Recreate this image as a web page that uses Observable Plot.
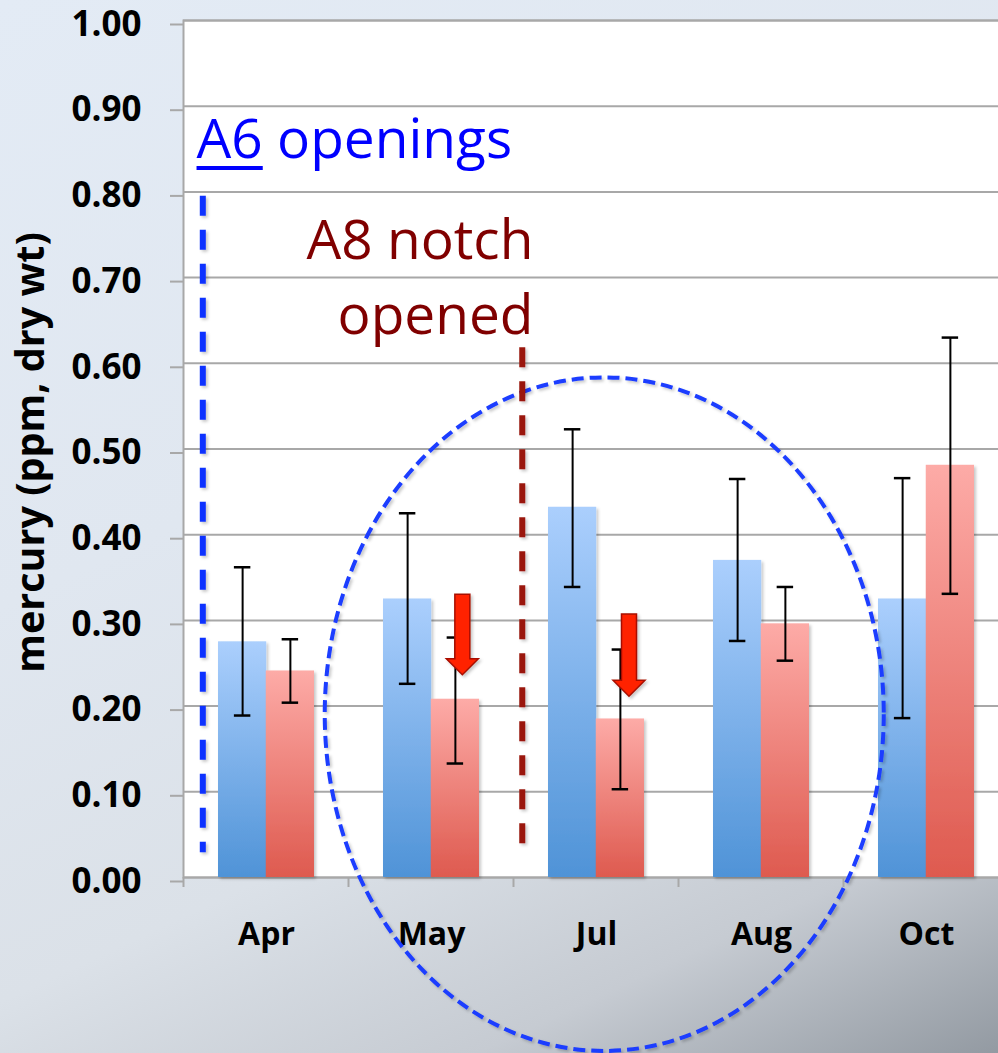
<!DOCTYPE html>
<html><head><meta charset="utf-8">
<script src="https://cdn.jsdelivr.net/npm/d3@7"></script>
<script src="https://cdn.jsdelivr.net/npm/@observablehq/plot@0.6"></script>
<style>
html,body{margin:0;padding:0;overflow:hidden;width:998px;height:1053px;}
body{background:linear-gradient(155deg,#e3ebf5 0%,#e0e7f0 40%,#dbe1e8 66%,#c6cbd2 84%,#939aa2 100%);}
#chart svg{display:block;overflow:visible;max-width:none !important;}
</style></head><body><div id="chart"></div>
<script>
// ---- data ----
const months    = ["Apr", "May", "Jul", "Aug", "Oct"];
const blueMean  = [0.275, 0.325, 0.432, 0.370, 0.325];
const blueLow   = [0.189, 0.226, 0.339, 0.276, 0.186];
const blueHigh  = [0.362, 0.425, 0.523, 0.465, 0.466];
const redMean   = [0.241, 0.208, 0.185, 0.296, 0.481];
const redLow    = [0.204, 0.133, 0.103, 0.253, 0.331];
const redHigh   = [0.278, 0.280, 0.266, 0.339, 0.630];
const yTicks    = [0, 0.1, 0.2, 0.3, 0.4, 0.5, 0.6, 0.7, 0.8, 0.9, 1.0];
const yTitle    = "mercury (ppm, dry wt)";
// annotations (data units: month band + shift in band steps, value on y)
const annoLines = [
  {month: "Apr", shift: -0.383, from: 0.795, to: 0.029, color: "#0a30ff"},
  {month: "Jul", shift: -0.447, from: 0.618, to: 0.025, color: "#9a170c"}
];
const arrows = [
  {month: "May", shift: 0.19, top: 0.330, tip: 0.236},
  {month: "Jul", shift: 0.20, top: 0.307, tip: 0.211}
];
const ring = {month: "Jul", shift: 0.05, value: 0.19, rx: 1.694, ry: 0.393};
const notes = [
  {parts: [["A6", true], [" openings", false]], month: "Apr", shift: -0.421, value: 0.839, anchor: "start", color: "#0000ff"},
  {parts: [["A8 notch", false]], month: "Jul", shift: -0.379, value: 0.721, anchor: "end", color: "#800000"},
  {parts: [["opened", false]], month: "Jul", shift: -0.379, value: 0.634, anchor: "end", color: "#800000"}
];

const rows = months.map((m, i) => ({month: m, blue: blueMean[i], blueLow: blueLow[i], blueHigh: blueHigh[i],
  red: redMean[i], redLow: redLow[i], redHigh: redHigh[i]}));

// ---- layout ----
const W = 1008, H = 1053, ML = 183, MR = 0, MT = 20, MB = 176;
const PAD = 0.421;
const STEP = (W - ML - MR) / months.length;
const BW = STEP * (1 - PAD);
const CAP = 8;
const GRID = "#a8a8a8";
const NOTE_FONT = 55;

const measure = (() => {
  const ctx = document.createElement("canvas").getContext("2d");
  return (s, size) => { ctx.font = `${size}px 'Open Sans'`; return ctx.measureText(s).width; };
})();

const defs = () => {
  const d = d3.create("svg:defs");
  const g1 = d.append("linearGradient").attr("id", "gBlue").attr("x1", 0).attr("y1", 0).attr("x2", 0).attr("y2", 1);
  g1.append("stop").attr("offset", "0%").attr("stop-color", "#abcffd");
  g1.append("stop").attr("offset", "100%").attr("stop-color", "#4f93d7");
  const g2 = d.append("linearGradient").attr("id", "gRed").attr("x1", 0).attr("y1", 0).attr("x2", 0).attr("y2", 1);
  g2.append("stop").attr("offset", "0%").attr("stop-color", "#fdaba7");
  g2.append("stop").attr("offset", "100%").attr("stop-color", "#de5a4f");
  const f = d.append("filter").attr("id", "shadow").attr("filterUnits", "userSpaceOnUse")
    .attr("x", -50).attr("y", -50).attr("width", 1200).attr("height", 1200);
  f.append("feDropShadow").attr("dx", 2).attr("dy", 2).attr("stdDeviation", 1.8).attr("flood-color", "#000").attr("flood-opacity", 0.22);
  return d.node();
};

const overlay = (index, scales) => {
  const x = scales.x, y = scales.y;
  const bw = x.bandwidth(), step = x.step();
  const px = (m, s) => x(m) + bw / 2 + s * step;
  const g = d3.create("svg:g");
  // category boundary ticks on the x axis
  for (const m of months) {
    const xb = x(m) + bw / 2 - step / 2;
    g.append("line").attr("x1", xb).attr("x2", xb).attr("y1", y(0)).attr("y2", y(0) + 10)
      .attr("stroke", GRID).attr("stroke-width", 2);
  }
  // ellipse
  g.append("ellipse").attr("cx", px(ring.month, ring.shift)).attr("cy", y(ring.value))
    .attr("rx", ring.rx * step).attr("ry", y(0) - y(ring.ry))
    .attr("fill", "none").attr("stroke", "#1a3cff").attr("stroke-width", 4)
    .attr("stroke-dasharray", "12 6").attr("filter", "url(#shadow)");
  // dashed vertical lines
  for (const l of annoLines) {
    g.append("line").attr("x1", px(l.month, l.shift)).attr("x2", px(l.month, l.shift))
      .attr("y1", y(l.from)).attr("y2", y(l.to))
      .attr("stroke", l.color).attr("stroke-width", 6).attr("stroke-dasharray", "20 14")
      .attr("filter", "url(#shadow)");
  }
  // block arrows
  for (const a of arrows) {
    const cx = px(a.month, a.shift), t = y(a.top), tip = y(a.tip), hs = tip - 16;
    const p = [[cx - 7.5, t], [cx + 7.5, t], [cx + 7.5, hs], [cx + 16, hs], [cx, tip], [cx - 16, hs], [cx - 7.5, hs]];
    g.append("path").attr("d", "M" + p.map(q => q.join(",")).join("L") + "Z")
      .attr("fill", "#ff2200").attr("stroke", "#a81000").attr("stroke-width", 1.5)
      .attr("stroke-linejoin", "miter").attr("filter", "url(#shadow)");
  }
  // notes
  for (const n of notes) {
    const x0 = px(n.month, n.shift), y0 = y(n.value);
    const t = g.append("text").attr("x", x0).attr("y", y0)
      .attr("text-anchor", n.anchor).attr("fill", n.color)
      .attr("font-family", "'Open Sans'").attr("font-size", NOTE_FONT);
    let cursor = x0;
    for (const [s, u] of n.parts) {
      t.append("tspan").text(s);
      const w = measure(s, NOTE_FONT);
      if (u) g.append("line").attr("x1", cursor).attr("x2", cursor + w).attr("y1", y0 + 10).attr("y2", y0 + 10)
        .attr("stroke", n.color).attr("stroke-width", 4);
      cursor += w;
    }
  }
  // y axis title
  g.append("text").attr("transform", `translate(44,${(y(0) + y(1)) / 2 + 4}) rotate(-90)`)
    .attr("text-anchor", "middle").attr("font-family", "'Open Sans'").attr("font-weight", "bold")
    .attr("font-size", 39.5).attr("fill", "black").text(yTitle);
  return g.node();
};

const chart = Plot.plot({
  width: W, height: H,
  marginLeft: ML, marginRight: MR, marginTop: MT, marginBottom: MB,
  style: {fontFamily: "'Open Sans', sans-serif", background: "transparent", overflow: "visible", maxWidth: "none"},
  x: {domain: months, paddingInner: PAD, paddingOuter: PAD / 2},
  y: {domain: [0, 1]},
  marks: [
    defs,
    Plot.frame({fill: "white", stroke: GRID, strokeWidth: 2}),
    Plot.gridY(yTicks, {stroke: GRID, strokeOpacity: 1, strokeWidth: 2}),
    Plot.axisY(yTicks, {tickSize: 13, tickPadding: 29, tickFormat: d3.format(".2f"), fontSize: 35, dy: 4,
      fontWeight: "bold", stroke: GRID, strokeWidth: 2, fill: "black", label: null}),
    Plot.axisX({tickSize: 0, tickPadding: 45, fontSize: 32, fontWeight: "bold", fill: "black", label: null}),
    Plot.barY(rows, {x: "month", y: "blue", fill: "url(#gBlue)", insetRight: BW / 2}),
    Plot.barY(rows, {x: "month", y: "red", fill: "url(#gRed)", insetLeft: BW / 2}),
    Plot.ruleX(rows, {x: "month", y1: "blueLow", y2: "blueHigh", dx: -BW / 4, stroke: "black", strokeWidth: 2}),
    Plot.ruleX(rows, {x: "month", y1: "redLow", y2: "redHigh", dx: BW / 4, stroke: "black", strokeWidth: 2}),
    Plot.tickY(rows, {x: "month", y: "blueHigh", insetLeft: BW / 4 - CAP, insetRight: 3 * BW / 4 - CAP, stroke: "black", strokeWidth: 2.5}),
    Plot.tickY(rows, {x: "month", y: "blueLow", insetLeft: BW / 4 - CAP, insetRight: 3 * BW / 4 - CAP, stroke: "black", strokeWidth: 2.5}),
    Plot.tickY(rows, {x: "month", y: "redHigh", insetLeft: 3 * BW / 4 - CAP, insetRight: BW / 4 - CAP, stroke: "black", strokeWidth: 2.5}),
    Plot.tickY(rows, {x: "month", y: "redLow", insetLeft: 3 * BW / 4 - CAP, insetRight: BW / 4 - CAP, stroke: "black", strokeWidth: 2.5}),
    overlay
  ]
});
// soft shadow under the bars, as in the reference
chart.querySelectorAll('g[aria-label="bar"]').forEach(g => g.setAttribute("filter", "url(#shadow)"));
document.getElementById("chart").appendChild(chart);
</script></body></html>
